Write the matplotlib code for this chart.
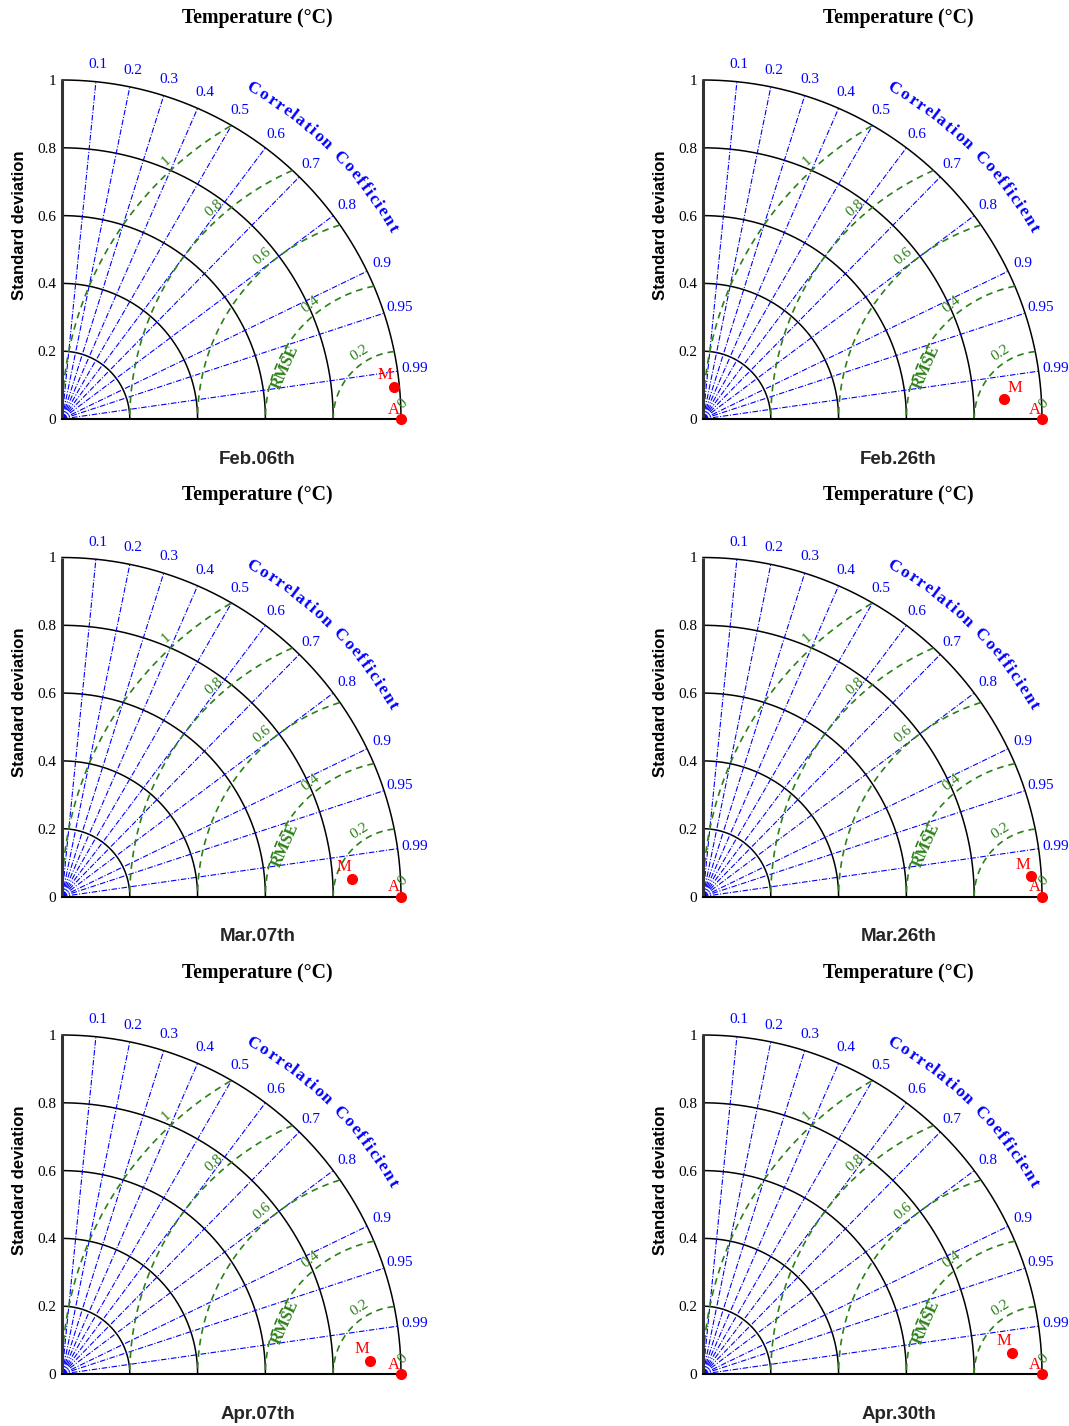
import numpy as np
import matplotlib
matplotlib.use('Agg')
import matplotlib.pyplot as plt
from matplotlib.font_manager import FontProperties
from matplotlib.textpath import text_to_path

# data
panel_names = ['Feb.06th', 'Feb.26th', 'Mar.07th', 'Mar.26th', 'Apr.07th', 'Apr.30th']
m_std = [0.983, 0.890, 0.857, 0.970, 0.910, 0.914]
m_corr = [0.9954, 0.9978, 0.9981, 0.9981, 0.9991, 0.9977]
m_side = ['left', 'right', 'left', 'left', 'left', 'left']
ref_std = 1.0
corr_ticks = [0.1, 0.2, 0.3, 0.4, 0.5, 0.6, 0.7, 0.8, 0.9, 0.95, 0.99]
std_arcs = [0.2, 0.4, 0.6, 0.8, 1.0]
std_ticks = [0, 0.2, 0.4, 0.6, 0.8, 1.0]
std_ticklabels = ['0', '0.2', '0.4', '0.6', '0.8', '1']
rmse_levels = [0.2, 0.4, 0.6, 0.8, 1.0]
rmse_labels = ['0.2', '0.4', '0.6', '0.8', '1']

SERIF = 'Liberation Serif'
SANS = 'Liberation Sans'
GREEN = '#2b8019'
W, H = 1069, 1426
scale = 339.0  # pixels per unit std

fig = plt.figure(figsize=(W / 100, H / 100), dpi=100)


def arc_text(ax, txt, r, a0, a1, fs):
    fp = FontProperties(family=SERIF, weight='bold', size=fs)
    widths = []
    for ch in txt:
        w, h, d = text_to_path.get_text_width_height_descent(ch if ch != ' ' else 'n', fp, ismath=False)
        widths.append(w * 0.55 if ch == ' ' else w)
    widths = np.array(widths) * 100 / 72 / scale  # data units
    centers = np.cumsum(widths) - widths / 2
    span = np.deg2rad(a0 - a1) * r
    sp = (span - (centers[-1] - centers[0])) / (len(txt) - 1)
    centers = centers + sp * np.arange(len(txt))
    centers -= centers[0]
    for ch, c in zip(txt, centers):
        if ch == ' ':
            continue
        ang = np.deg2rad(a0) - c / r
        ax.text(r * np.cos(ang), r * np.sin(ang), ch, color='blue', fontsize=fs,
                family=SERIF, weight='bold', rotation=np.rad2deg(ang) - 90,
                rotation_mode='anchor', ha='center', va='center')


for i, name in enumerate(panel_names):
    row, col = divmod(i, 2)
    x0 = 62 + col * 641
    y0 = 419 + row * 477.5
    ax = fig.add_axes([x0 / W, 1 - y0 / H, 1.1 * scale / W, scale / H])
    ax.set_xlim(0, 1.1)
    ax.set_ylim(0, 1.0)
    for s in ax.spines.values():
        s.set_visible(False)
    ax.set_xticks([])
    ax.set_yticks(std_ticks)
    ax.set_yticklabels(std_ticklabels, family=SERIF, fontsize=11)
    ax.tick_params(axis='y', length=0, pad=4)

    th = np.linspace(0, np.pi / 2, 300)
    # std arcs
    for r in std_arcs:
        ax.plot(r * np.cos(th), r * np.sin(th), color='black', lw=1.1, clip_on=False)
    # correlation rays
    for c in corr_ticks:
        a = np.arccos(c)
        ax.plot([0, np.cos(a)], [0, np.sin(a)], color='blue', lw=0.8, ls=(0, (5, 1.5, 1, 1.5)),
                clip_on=False)
        ax.text(1.05 * np.cos(a), 1.05 * np.sin(a), str(c), color='blue', family=SERIF,
                fontsize=11, ha='center', va='center')
    # rmse arcs
    for r, lab in zip(rmse_levels, rmse_labels):
        ph = np.linspace(0, np.pi, 600)
        xs = ref_std + r * np.cos(ph)
        ys = r * np.sin(ph)
        ok = (xs ** 2 + ys ** 2 <= 1.0) & (xs >= 0)
        ax.plot(xs[ok], ys[ok], color=GREEN, lw=1.2, ls=(0, (4, 3)), clip_on=False)
        d = r + 0.03
        tha = 135 - np.rad2deg(np.arcsin(0.07 / (d * np.sqrt(2))))
        ax.text(ref_std + d * np.cos(np.deg2rad(tha)), d * np.sin(np.deg2rad(tha)), lab,
                color=GREEN, family=SERIF, fontsize=11, rotation=tha - 90,
                ha='center', va='center')
    ax.text(1.005, 0.045, '0', color=GREEN, family=SERIF, fontsize=11, rotation=45,
            ha='center', va='center')
    ax.text(ref_std + 0.373 * np.cos(np.deg2rad(156)), 0.373 * np.sin(np.deg2rad(156)), 'RMSE',
            color=GREEN, family=SERIF, weight='bold', fontsize=11.5, rotation=66,
            ha='center', va='center')

    # axes lines
    ax.plot([0, 0], [0, 1], color='#333333', lw=2.2, clip_on=False, solid_capstyle='butt')
    ax.plot([0, 1], [0, 0], color='black', lw=1.5, clip_on=False)

    arc_text(ax, 'Correlation Coefficient', 1.125, 60, 30, 12.5)

    # points
    ax.plot([ref_std], [0], 'o', color='red', ms=7, clip_on=False, zorder=5)
    ax.text(ref_std - 0.004, 0.004, 'A', color='red', family=SERIF, fontsize=12,
            ha='right', va='bottom', zorder=5)
    mx = m_std[i] * m_corr[i]
    my = m_std[i] * np.sqrt(1 - m_corr[i] ** 2)
    ax.plot([mx], [my], 'o', color='red', ms=7, clip_on=False, zorder=5)
    if m_side[i] == 'left':
        ax.text(mx - 0.003, my + 0.011, 'M', color='red', family=SERIF, fontsize=12,
                ha='right', va='bottom', zorder=5)
    else:
        ax.text(mx + 0.009, my + 0.009, 'M', color='red', family=SERIF, fontsize=12,
                ha='left', va='bottom', zorder=5)

    ax.text(-0.124, 0.572, 'Standard deviation', rotation=90, family=SANS, weight='bold',
            fontsize=12, ha='center', va='center')
    ax.text(0.577, 1.183, 'Temperature (\u00b0C)', family=SERIF, weight='bold',
            fontsize=14.3, ha='center', va='center')
    ax.text(0.577, -0.118, name, family=SANS, weight='bold', fontsize=13.5,
            color='#262626', ha='center', va='center')

fig.savefig('out.png', dpi=100)
